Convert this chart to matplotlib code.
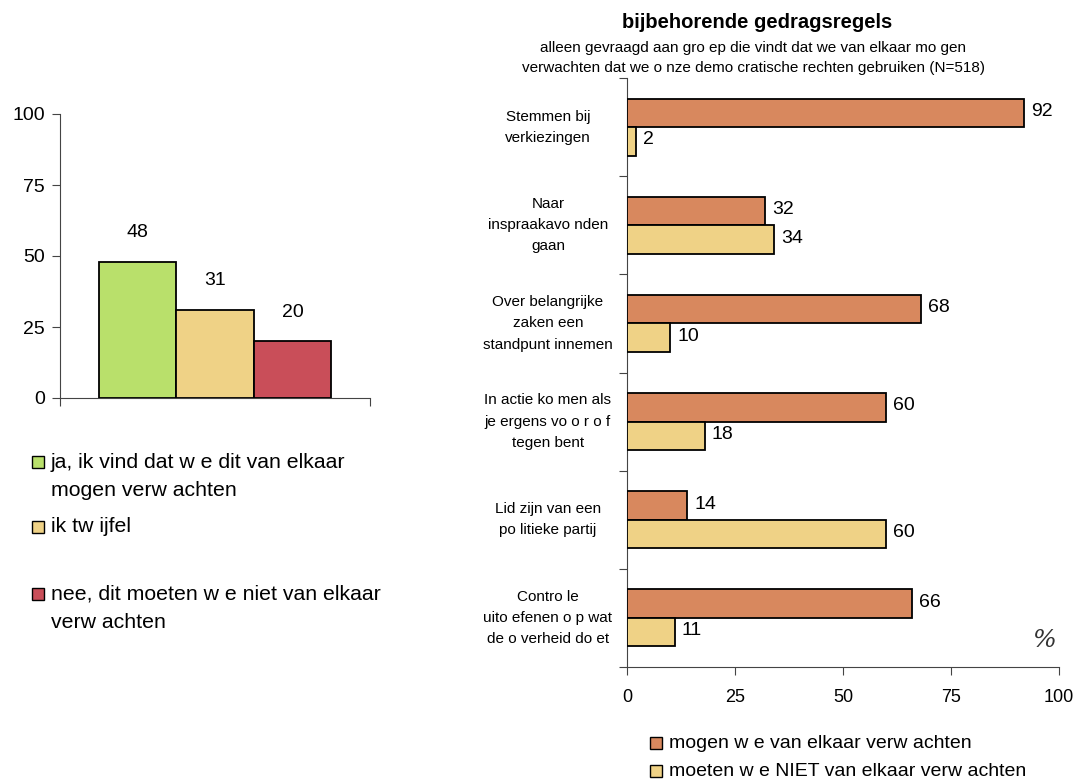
import matplotlib.pyplot as plt
from matplotlib.patches import Rectangle
from matplotlib.transforms import blended_transform_factory

plt.rcParams['font.family'] = ['Liberation Sans', 'DejaVu Sans']

# left chart
answer_labels = ['ja, ik vind dat w e dit van elkaar\nmogen verw achten',
                 'ik tw ijfel',
                 'nee, dit moeten w e niet van elkaar\nverw achten']
answer_values = [48, 31, 20]
answer_colors = ['#B9E06B', '#EFD286', '#C94E59']

# right chart
rules = ['Stemmen bij\nverkiezingen',
         'Naar\ninspraakavo nden\ngaan',
         'Over belangrijke\nzaken een\nstandpunt innemen',
         'In actie ko men als\nje ergens vo o r o f\ntegen bent',
         'Lid zijn van een\npo litieke partij',
         'Contro le\nuito efenen o p wat\nde o verheid do et']
mogen = [92, 32, 68, 60, 14, 66]
niet = [2, 34, 10, 18, 60, 11]
series_names = ['mogen w e van elkaar verw achten',
                'moeten w e NIET van elkaar verw achten']
series_colors = ['#D8885E', '#EFD286']

W, H = 1079, 783
fig = plt.figure(figsize=(W / 100, H / 100), dpi=100)


def fx(px):
    return px / W


def fy(py):
    return 1 - py / H


# ---- left bar chart ----
ax1 = fig.add_axes([fx(60), fy(398), fx(310), 284 / H])
ax1.bar([1, 2, 3], answer_values, width=1, color=answer_colors,
        edgecolor='black', linewidth=1.3, zorder=3)
for i, v in enumerate(answer_values):
    ax1.annotate(str(v), (i + 1, v), xytext=(0, 21), textcoords='offset points',
                 ha='center', va='center', fontsize=14)
ax1.set_xlim(0, 4)
ax1.set_ylim(0, 100)
ax1.set_yticks([0, 25, 50, 75, 100])
ax1.set_xticks([0, 4])
ax1.set_xticklabels([])
ax1.tick_params(axis='y', labelsize=14, length=6, pad=5, color='#444444')
ax1.tick_params(axis='x', length=6, color='#444444')
for s in ['top', 'right']:
    ax1.spines[s].set_visible(False)
for s in ['left', 'bottom']:
    ax1.spines[s].set_color('#444444')

# left legend
leg_rows = [(462, 0), (527, 1), (594, 2)]
for ypx, i in leg_rows:
    fig.patches.append(Rectangle((fx(32), fy(ypx) - 6 / H), 12 / W, 12 / H,
                                 transform=fig.transFigure, facecolor=answer_colors[i],
                                 edgecolor='black', linewidth=1))
    for k, line in enumerate(answer_labels[i].split('\n')):
        fig.text(fx(51), fy(ypx + 28 * k), line, fontsize=15.3, va='center', ha='left')

# ---- right horizontal bar chart ----
ax2 = fig.add_axes([fx(627), fy(667), fx(432), 589 / H])
pos = list(range(len(rules)))
ax2.barh([p - 0.145 for p in pos], mogen, height=0.29, color=series_colors[0],
         edgecolor='black', linewidth=1.3, zorder=3)
ax2.barh([p + 0.145 for p in pos], niet, height=0.29, color=series_colors[1],
         edgecolor='black', linewidth=1.3, zorder=3)
for p, v in zip(pos, mogen):
    ax2.annotate(str(v), (v, p - 0.145), xytext=(5, 1), textcoords='offset points',
                 ha='left', va='center', fontsize=14)
for p, v in zip(pos, niet):
    ax2.annotate(str(v), (v, p + 0.145), xytext=(5, 1), textcoords='offset points',
                 ha='left', va='center', fontsize=14)
ax2.set_xlim(0, 100)
ax2.set_ylim(len(rules) - 0.5, -0.5)
ax2.set_xticks([0, 25, 50, 75, 100])
ax2.set_yticks([p - 0.5 for p in range(len(rules) + 1)])
ax2.set_yticklabels([])
ax2.tick_params(axis='x', labelsize=13, length=6, pad=10, color='#444444')
ax2.tick_params(axis='y', length=6, color='#444444')
for s in ['top', 'right']:
    ax2.spines[s].set_visible(False)
for s in ['left', 'bottom']:
    ax2.spines[s].set_color('#444444')

trans = blended_transform_factory(ax2.transAxes, ax2.transData)
for p, lab in zip(pos, rules):
    ax2.text(-0.183, p, lab, transform=trans, ha='center', va='center',
             fontsize=11, linespacing=1.65)
ax2.text(0.965, 0.045, '%', transform=ax2.transAxes, ha='center', va='center',
         fontsize=18, family='DejaVu Serif', style='italic', color='#333333')

fig.text(fx(757), fy(23), 'bijbehorende gedragsregels', fontsize=14.5,
         fontweight='bold', ha='center', va='center')
fig.text(fx(753), fy(48), 'alleen gevraagd aan gro ep die vindt dat we van elkaar mo gen',
         fontsize=11, ha='center', va='center')
fig.text(fx(753), fy(68), 'verwachten dat we o nze demo cratische rechten gebruiken (N=518)',
         fontsize=11, ha='center', va='center')

# right legend
for k, name in enumerate(series_names):
    ypx = 743 + 28 * k
    fig.patches.append(Rectangle((fx(650), fy(ypx) - 6 / H), 12 / W, 12 / H,
                                 transform=fig.transFigure, facecolor=series_colors[k],
                                 edgecolor='black', linewidth=1))
    fig.text(fx(669), fy(ypx), name, fontsize=14, va='center', ha='left')

fig.savefig('out.png', dpi=100)
